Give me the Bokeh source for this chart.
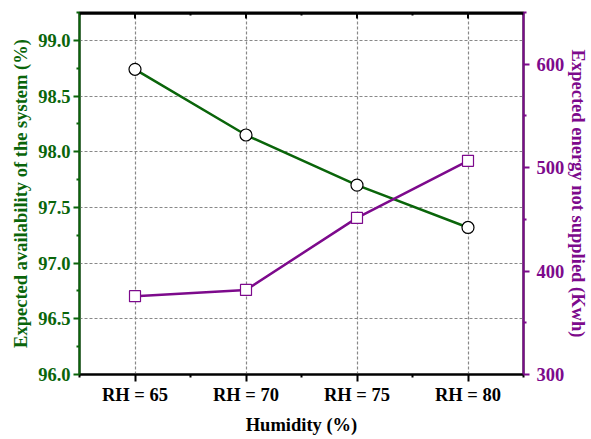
import math
from bokeh.plotting import figure
from bokeh.models import Range1d, LinearAxis, FixedTicker, ColumnDataSource, Span
from bokeh.embed import file_html
from bokeh.resources import INLINE

categories = ["RH = 65", "RH = 70", "RH = 75", "RH = 80"]
availability = [98.74, 98.15, 97.70, 97.32]
ens = [375.7, 381.8, 451.4, 506.6]
left_ticks = [96.0, 96.5, 97.0, 97.5, 98.0, 98.5, 99.0]
left_minor = [96.25, 96.75, 97.25, 97.75, 98.25, 98.75, 99.25]
right_ticks = [300, 400, 500, 600]
right_minor = [350, 450, 550, 650]
x_minor = [0.5, 1.5, 2.5, 3.5, 4.5]
x_title = "Humidity (%)"
left_title = "Expected availability of the system (%)"
right_title = "Expected energy not supplied (Kwh)"

GREEN = "#0a650a"
PURPLE = "#7d0a8c"
FONT = "Liberation Serif"
FS = "18.5px"

X0, X1 = 0.5, 4.5
Y0, Y1 = 96.0, 99.25
E0, E1 = 300, 650
UNIT_PX = 361 / (Y1 - Y0)      # approx. pixels per availability unit
TOP_Y = Y1 - 1.0 / UNIT_PX     # top edge line, just inside the frame

xs = list(range(1, len(categories) + 1))
src = ColumnDataSource(dict(x=xs, avail=availability, ens=ens))

p = figure(width=591, height=439, x_range=Range1d(X0, X1), y_range=Range1d(Y0, Y1),
           output_backend="svg", toolbar_location=None,
           min_border_left=79, min_border_right=60, min_border_top=12, min_border_bottom=65)
p.outline_line_color = "black"
p.outline_line_width = 2
p.extra_y_ranges = {"ens": Range1d(E0, E1)}

# bottom axis
xa = p.xaxis[0]
xa.ticker = FixedTicker(ticks=xs, minor_ticks=x_minor)
xa.major_label_overrides = {i: c for i, c in zip(xs, categories)}
xa.axis_label = x_title
xa.axis_line_width = 2
xa.axis_line_color = "black"
xa.major_tick_line_width = 2
xa.minor_tick_line_width = 2
xa.major_tick_out = 7
xa.major_tick_in = 0
xa.minor_tick_out = 3
xa.minor_tick_in = 0
xa.major_label_text_font = FONT
xa.major_label_text_font_style = "bold"
xa.major_label_text_font_size = FS
xa.major_label_text_color = "black"
xa.axis_label_text_font = FONT
xa.axis_label_text_font_style = "bold"
xa.axis_label_text_font_size = FS
xa.axis_label_text_color = "black"
xa.major_label_standoff = 3
xa.axis_label_standoff = 7

# left axis
ya = p.yaxis[0]
ya.ticker = FixedTicker(ticks=left_ticks, minor_ticks=left_minor)
ya.major_label_overrides = {t: f"{t:.1f}" for t in left_ticks}
ya.axis_label = left_title
ya.major_label_standoff = 3
ya.axis_label_standoff = 4
# right axis
ra = LinearAxis(y_range_name="ens", ticker=FixedTicker(ticks=right_ticks, minor_ticks=right_minor))
ra.axis_label = right_title
ra.major_label_standoff = 7
ra.axis_label_standoff = 1
p.add_layout(ra, "right")
for ax, col in [(ya, GREEN), (ra, PURPLE)]:
    ax.axis_line_width = 2
    ax.axis_line_color = col
    ax.major_tick_line_color = col
    ax.minor_tick_line_color = col
    ax.major_tick_line_width = 2
    ax.minor_tick_line_width = 2
    ax.major_tick_out = 6
    ax.major_tick_in = 0
    ax.minor_tick_out = 3
    ax.minor_tick_in = 0
    ax.major_label_text_font = FONT
    ax.major_label_text_font_style = "bold"
    ax.major_label_text_font_size = FS
    ax.major_label_text_color = col
    ax.axis_label_text_font = FONT
    ax.axis_label_text_font_style = "bold"
    ax.axis_label_text_font_size = FS
    ax.axis_label_text_color = col

# grids
p.xgrid.ticker = FixedTicker(ticks=xs)
p.ygrid.ticker = FixedTicker(ticks=left_ticks)
for g in [p.xgrid[0], p.ygrid[0]]:
    g.grid_line_color = "#888888"
    g.grid_line_dash = "3 2"
    g.grid_line_width = 1.2

# top frame edge with inward ticks
p.add_layout(Span(location=TOP_Y, dimension="width", line_color="black", line_width=2.5))
p.segment(x0=xs, y0=[Y1] * len(xs), x1=xs, y1=[Y1 - 6 / UNIT_PX] * len(xs),
          line_color="black", line_width=2)
p.segment(x0=x_minor, y0=[Y1] * len(x_minor), x1=x_minor, y1=[Y1 - 3 / UNIT_PX] * len(x_minor),
          line_color="black", line_width=2)

# data
p.line("x", "avail", source=src, line_color=GREEN, line_width=2.5)
p.line("x", "ens", source=src, line_color=PURPLE, line_width=2.5, y_range_name="ens")
p.scatter("x", "avail", source=src, marker="circle", size=12, fill_color="white",
          line_color="black", line_width=1.2)
p.scatter("x", "ens", source=src, marker="square", size=11, fill_color="white",
          line_color=PURPLE, line_width=1.2, y_range_name="ens")

open("out.html", "w").write(file_html(p, INLINE))
